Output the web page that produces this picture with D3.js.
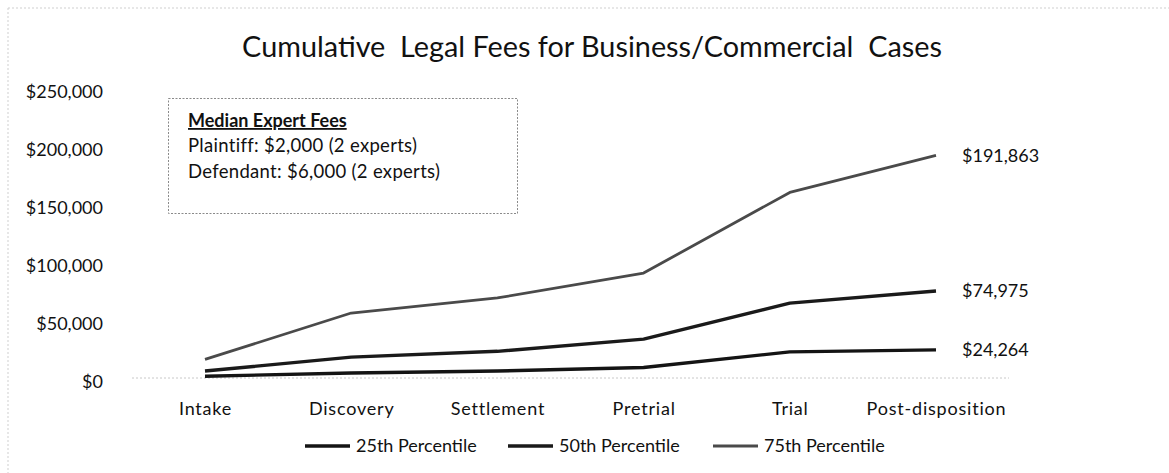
<!DOCTYPE html>
<html><head><meta charset="utf-8">
<script src="https://cdn.jsdelivr.net/npm/d3@7"></script>
<style>
html,body{margin:0;padding:0;background:#fff;}
svg{display:block;font-family:Lato,"Open Sans",sans-serif;}
</style></head>
<body>
<svg id="chart" width="1169" height="473"></svg>
<script>
const categories = ["Intake","Discovery","Settlement","Pretrial","Trial","Post-disposition"];
const seriesNames = ["25th Percentile","50th Percentile","75th Percentile"];
const p25 = [1500, 4300, 6000, 9000, 22500, 24264];
const p50 = [6000, 18000, 23000, 33500, 64500, 74975];
const p75 = [16000, 56000, 69000, 90500, 160000, 191863];
const yTicks = [0, 50000, 100000, 150000, 200000, 250000];
const titleText = "Cumulative  Legal Fees for Business/Commercial  Cases";
const noteTitle = "Median Expert Fees";
const noteLines = ["Plaintiff: $2,000 (2 experts)", "Defendant: $6,000 (2 experts)"];

const series = [
  {name: seriesNames[0], values: p25, color: "#141414", width: 3.4},
  {name: seriesNames[1], values: p50, color: "#1a1a1a", width: 3.4},
  {name: seriesNames[2], values: p75, color: "#4a4a4a", width: 2.8}
];

const svg = d3.select("#chart");
const x = d3.scalePoint().domain(categories).range([205, 936]);
const y = d3.scaleLinear().domain([0, 250000]).range([378, 88]);
const fmt = v => "$" + d3.format(",")(v);

// chart frame (faint, as in scan)
svg.append("line").attr("x1",8).attr("x2",1169).attr("y1",8).attr("y2",8)
  .attr("stroke","#cfcfcf").attr("stroke-dasharray","2,2");
svg.append("line").attr("x1",8).attr("x2",8).attr("y1",8).attr("y2",473)
  .attr("stroke","#cfcfcf").attr("stroke-dasharray","2,2");

// title
const title = svg.append("text").attr("x", 592).attr("y", 57)
  .attr("text-anchor","middle").attr("fill","#111")
  .style("font-size","30px").style("white-space","pre").text(titleText);
{
  const w = title.node().getComputedTextLength();
  title.style("font-size", (30 * 700 / w).toFixed(2) + "px");
}

// baseline (faint dotted)
svg.append("line").attr("x1", 132).attr("x2", 1009)
  .attr("y1", y(0)).attr("y2", y(0))
  .attr("stroke","#c8c8c8").attr("stroke-dasharray","2,2");

// y axis
const yAxis = d3.axisLeft(y).tickValues(yTicks).tickFormat(fmt).tickSize(0).tickPadding(0);
const gy = svg.append("g").attr("transform","translate(103,4)").call(yAxis);
gy.select(".domain").remove();
gy.selectAll("text").style("font-size","18px").style("font-family","Lato").attr("fill","#111");

// x axis
const xAxis = d3.axisBottom(x).tickSize(0).tickPadding(0);
const gx = svg.append("g").attr("transform","translate(0,401)").call(xAxis);
gx.select(".domain").remove();
gx.selectAll("text").style("font-size","18px").style("font-family","Lato")
  .style("letter-spacing","0.8px").attr("fill","#111").attr("dy","0.75em");

// lines
const line = d3.line().x((d,i) => x(categories[i])).y(d => y(d));
series.forEach(s => {
  svg.append("path").datum(s.values).attr("d", line)
    .attr("fill","none").attr("stroke", s.color).attr("stroke-width", s.width)
    .attr("stroke-linejoin","round");
});

// end labels
series.forEach(s => {
  const last = s.values[s.values.length-1];
  svg.append("text").attr("x", x(categories[categories.length-1]) + 26)
    .attr("y", y(last)).attr("dy","0.35em").attr("fill","#111")
    .style("font-size","18px").text(fmt(last));
});

// annotation box
svg.append("rect").attr("x",168.5).attr("y",98.5).attr("width",349).attr("height",115)
  .attr("fill","#fff").attr("stroke","#8a8a8a").attr("stroke-width",1)
  .attr("stroke-dasharray","2,1.5");
svg.append("text").attr("x",188).attr("y",127).attr("fill","#111")
  .style("font-size","18px").style("font-weight","bold")
  .style("text-decoration","underline").text(noteTitle);
noteLines.forEach((t,i) => {
  svg.append("text").attr("x",188).attr("y",152 + i*26).attr("fill","#111")
    .style("font-size","18.5px").style("letter-spacing","0.3px").text(t);
});

// legend
const legendX = [305, 508, 713];
series.forEach((s,i) => {
  const g = svg.append("g").attr("transform", `translate(${legendX[i]},446)`);
  g.append("line").attr("x1",0).attr("x2",45).attr("y1",0).attr("y2",0)
    .attr("stroke", s.color).attr("stroke-width", s.width);
  g.append("text").attr("x",51).attr("y",0).attr("dy","0.35em").attr("fill","#111")
    .style("font-size","18px").text(s.name);
});
</script>
</body></html>
